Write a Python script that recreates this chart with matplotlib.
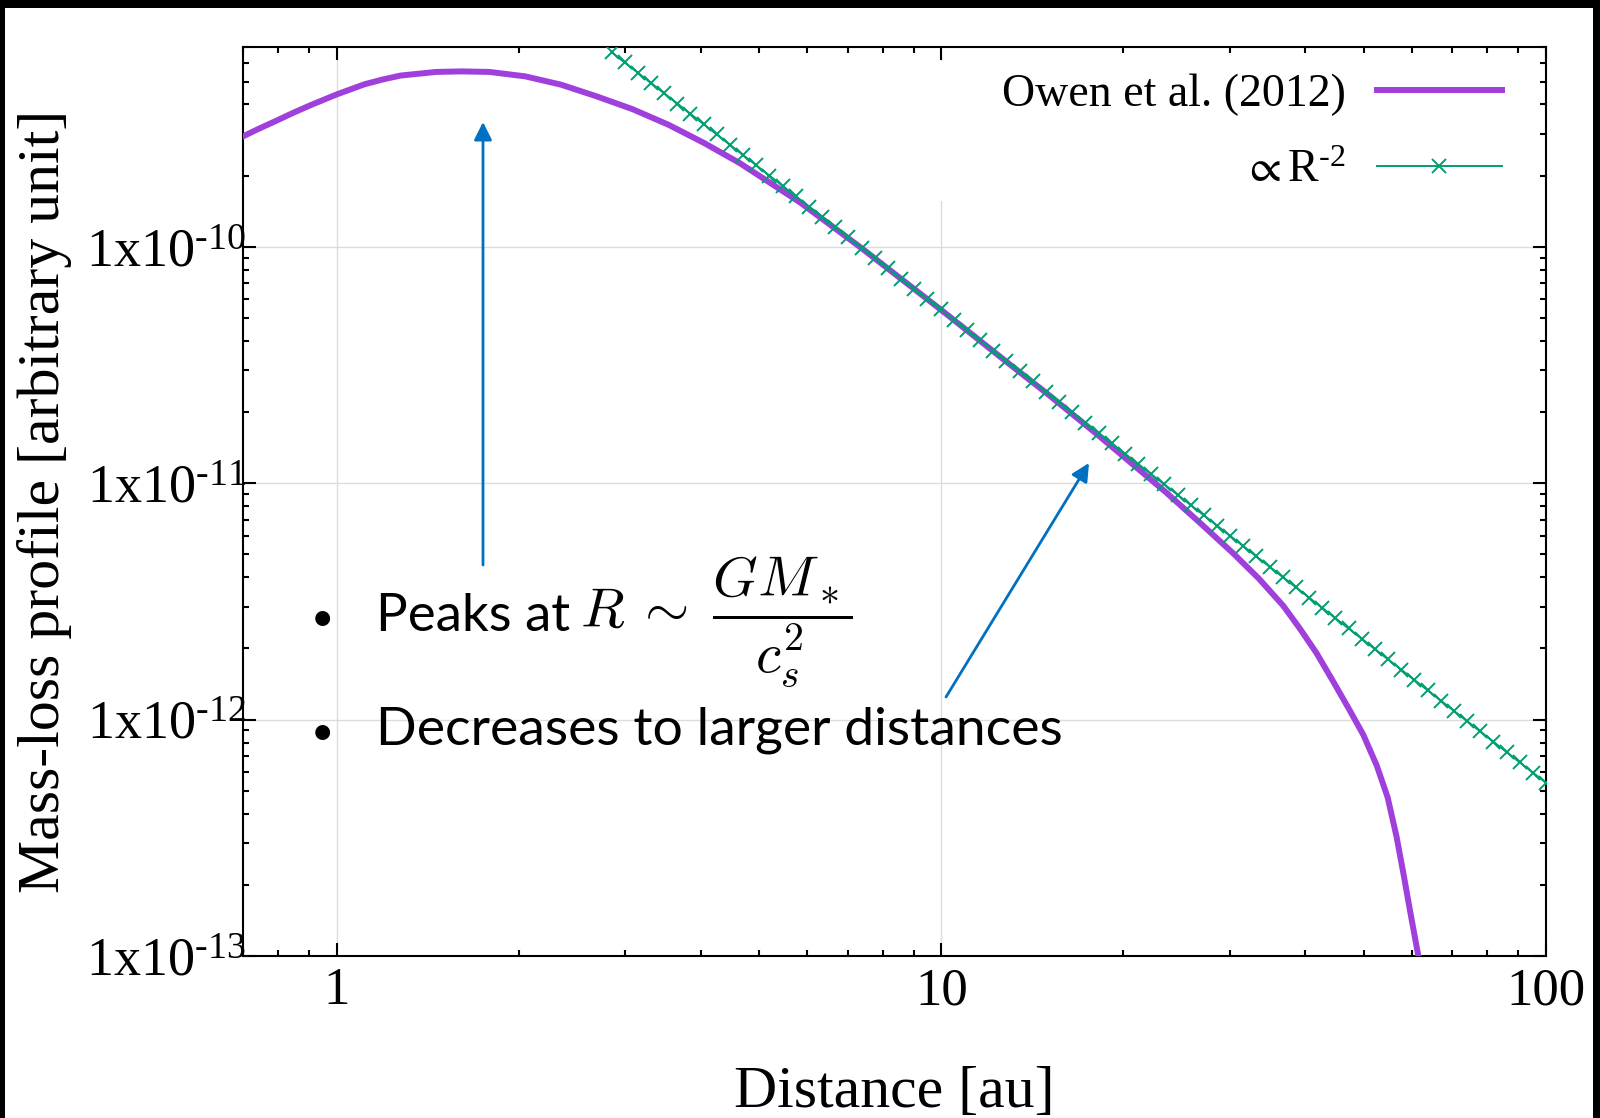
import matplotlib.pyplot as plt
from matplotlib.patches import Rectangle
from matplotlib.ticker import FixedLocator, FixedFormatter, LogLocator, NullFormatter

plt.rcParams['font.family'] = ['Liberation Serif', 'DejaVu Serif']
plt.rcParams['mathtext.fontset'] = 'stix'

# Owen et al. (2012) profile
owen_r = [0.7, 0.74, 0.792, 0.848, 0.907, 1.0, 1.112, 1.191, 1.275, 1.46, 1.607, 1.79,
          2.05, 2.35, 2.69, 3.086, 3.54, 4.05, 4.64, 5.32, 5.84, 7.33, 10.0, 13.0, 15.0,
          18.29, 23.58, 26.77, 30.39, 33.5, 36.77, 39.2, 41.74, 44.5, 47.4, 49.9, 52.48,
          54.7, 56.6, 58.07, 59.57, 61.5, 63.0]
owen_val = [2.93e-10, 3.14e-10, 3.40e-10, 3.69e-10, 3.98e-10, 4.41e-10, 4.87e-10, 5.10e-10,
            5.30e-10, 5.49e-10, 5.52e-10, 5.49e-10, 5.26e-10, 4.85e-10, 4.33e-10, 3.82e-10,
            3.28e-10, 2.75e-10, 2.26e-10, 1.80e-10, 1.54e-10, 1.0e-10, 5.4e-11, 3.17e-11,
            2.38e-11, 1.574e-11, 9.1e-12, 6.8e-12, 5.05e-12, 3.95e-12, 3.03e-12, 2.42e-12,
            1.91e-12, 1.445e-12, 1.09e-12, 8.6e-13, 6.4e-13, 4.7e-13, 3.2e-13, 2.25e-13,
            1.56e-13, 1.0e-13, 6.2e-14]

# R^-2 reference line, one point per marker
ref_r = [2.848, 2.994, 3.148, 3.310, 3.480, 3.659, 3.847, 4.045, 4.253, 4.471,
         4.701, 4.943, 5.197, 5.464, 5.745, 6.040, 6.351, 6.677, 7.020, 7.381,
         7.761, 8.160, 8.579, 9.020, 9.484, 9.971, 10.48, 11.02, 11.59, 12.19,
         12.81, 13.47, 14.16, 14.89, 15.66, 16.46, 17.31, 18.20, 19.13, 20.11,
         21.15, 22.23, 23.38, 24.58, 25.84, 27.17, 28.57, 30.03, 31.58, 33.20,
         34.91, 36.70, 38.59, 40.57, 42.66, 44.85, 47.15, 49.58, 52.12, 54.80,
         57.62, 60.58, 63.70, 66.97, 70.41, 74.03, 77.83, 81.83, 86.04, 90.46,
         95.11, 100.0]
ref_val = [6.658e-10, 6.023e-10, 5.449e-10, 4.929e-10, 4.459e-10, 4.034e-10, 3.649e-10,
           3.301e-10, 2.986e-10, 2.701e-10, 2.443e-10, 2.211e-10, 1.999e-10, 1.809e-10,
           1.636e-10, 1.480e-10, 1.339e-10, 1.211e-10, 1.095e-10, 9.91e-11,
           8.966e-11, 8.110e-11, 7.337e-11, 6.637e-11, 6.004e-11, 5.431e-11, 4.914e-11,
           4.444e-11, 4.021e-11, 3.637e-11, 3.291e-11, 2.976e-11, 2.693e-11, 2.436e-11,
           2.204e-11, 1.993e-11, 1.803e-11, 1.631e-11, 1.475e-11, 1.335e-11, 1.207e-11,
           1.092e-11, 9.882e-12, 8.939e-12, 8.087e-12, 7.315e-12, 6.618e-12, 5.987e-12,
           5.415e-12, 4.898e-12, 4.431e-12, 4.009e-12, 3.626e-12, 3.280e-12, 2.968e-12,
           2.685e-12, 2.429e-12, 2.197e-12, 1.988e-12, 1.798e-12, 1.627e-12, 1.471e-12,
           1.331e-12, 1.204e-12, 1.089e-12, 9.854e-13, 8.914e-13, 8.064e-13, 7.294e-13,
           6.598e-13, 5.969e-13, 5.400e-13]

x_ticks = [1, 10, 100]
x_labels = ['1', '10', '100']
y_ticks = [1e-13, 1e-12, 1e-11, 1e-10]
y_labels = ['$\\mathregular{1x10^{\u201013}}$', '$\\mathregular{1x10^{\u201012}}$',
            '$\\mathregular{1x10^{\u201011}}$', '$\\mathregular{1x10^{\u201010}}$']

W, H = 1600, 1118
fig = plt.figure(figsize=(16, 11.18), dpi=100)
ax = fig.add_axes([243 / W, 1 - 956 / H, (1546 - 243) / W, (956 - 47) / H])
ax.set_axisbelow(True)

owen_line, = ax.plot(owen_r, owen_val, color='#a040dc', lw=4.3, zorder=3,
                     solid_joinstyle='round')
ref_line, = ax.plot(ref_r, ref_val, color='#009e73', lw=1.4, marker='x',
                    markersize=9.5, markeredgewidth=1.4, zorder=4)

ax.set_xscale('log')
ax.set_yscale('log')
ax.set_xlim(0.7, 100)
ax.set_ylim(1e-13, 7e-10)

ax.xaxis.set_major_locator(FixedLocator(x_ticks))
ax.xaxis.set_major_formatter(FixedFormatter(x_labels))
ax.xaxis.set_minor_locator(LogLocator(base=10, subs=range(2, 10), numticks=20))
ax.xaxis.set_minor_formatter(NullFormatter())
ax.yaxis.set_major_locator(FixedLocator(y_ticks))
ax.yaxis.set_major_formatter(FixedFormatter(y_labels))
ax.yaxis.set_minor_locator(LogLocator(base=10, subs=range(2, 10), numticks=20))
ax.yaxis.set_minor_formatter(NullFormatter())

ax.tick_params(which='both', direction='in', top=True, right=True, width=1.5)
ax.tick_params(which='major', length=9.5)
ax.tick_params(which='minor', length=4.5)
ax.tick_params(axis='y', labelsize=39, pad=-2)
ax.tick_params(axis='x', labelsize=38, pad=8)
for s in ax.spines.values():
    s.set_linewidth(1.5)

ax.grid(True, which='major', color='#dcdcdc', lw=1)
# opaque key area hides the grid behind it
ax.add_patch(Rectangle((0.52, 0.8306), 0.46, 0.154, transform=ax.transAxes,
                       facecolor='white', edgecolor='none', zorder=1))

ax.set_xlabel('Distance [au]', fontsize=43)
ax.xaxis.set_label_coords(0.5, -0.121)
ax.set_ylabel('Mass-loss profile [arbitrary unit]', fontsize=43)
ax.yaxis.set_label_coords(-0.131, 0.5)

leg1 = ax.legend([owen_line], ['Owen et al. (2012)'], loc='center right',
                 bbox_to_anchor=(0.9662, (956 - 95) / 909), frameon=False,
                 markerfirst=False, fontsize=33, handlelength=2.73,
                 handletextpad=0.68, borderpad=0, borderaxespad=0)
ax.add_artist(leg1)
ax.legend([ref_line], ['$\\propto\\mathregular{R^{\u20102}}$'], loc='center right',
          bbox_to_anchor=(0.9662, (956 - 171) / 909), frameon=False,
          markerfirst=False, fontsize=33, handlelength=2.73, numpoints=1,
          handletextpad=0.68, borderpad=0, borderaxespad=0)

# annotations
blue = '#0070c0'
ax.annotate('', xy=(483 / W, 1 - 122 / H), xycoords='figure fraction',
            xytext=(483 / W, 1 - 565 / H), textcoords='figure fraction',
            arrowprops=dict(arrowstyle='-|>', color=blue, lw=2, mutation_scale=27,
                            shrinkA=0, shrinkB=0))
ax.annotate('', xy=(1089 / W, 1 - 463 / H), xycoords='figure fraction',
            xytext=(946 / W, 1 - 697 / H), textcoords='figure fraction',
            arrowprops=dict(arrowstyle='-|>', color=blue, lw=2, mutation_scale=27,
                            shrinkA=0, shrinkB=0))

fig.text(322 / W, 1 - 631 / H, '•', family='Lato', fontsize=29, ha='center', va='baseline')
fig.text(376 / W, 1 - 631 / H, 'Peaks at', family='Lato', fontsize=38, va='baseline')
fig.text(580 / W, 1 - 627 / H, r'$R\:\sim\;\dfrac{GM_*}{c_s^2}$', fontsize=41,
         math_fontfamily='cm', va='baseline')
fig.text(322 / W, 1 - 745 / H, '•', family='Lato', fontsize=29, ha='center', va='baseline')
fig.text(376 / W, 1 - 745 / H, 'Decreases to larger distances', family='Lato',
         fontsize=38.5, va='baseline')

# black frame along top, left and right edges
fig.add_artist(Rectangle((0, 1 - 8 / H), 1, 8 / H, transform=fig.transFigure,
                         facecolor='black', edgecolor='none'))
fig.add_artist(Rectangle((0, 0), 5 / W, 1, transform=fig.transFigure,
                         facecolor='black', edgecolor='none'))
fig.add_artist(Rectangle((1593 / W, 0), 7 / W, 1, transform=fig.transFigure,
                         facecolor='black', edgecolor='none'))

fig.savefig('out.png', dpi=100)
